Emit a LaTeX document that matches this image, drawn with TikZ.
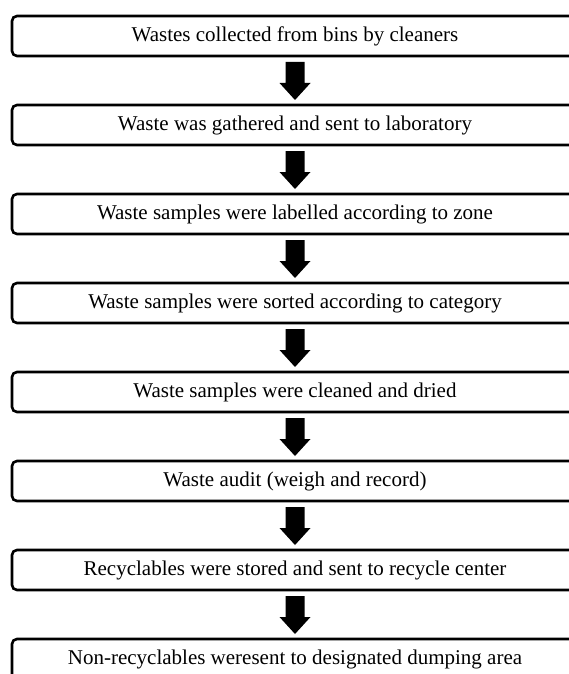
\documentclass[tikz,border=0pt]{standalone}
\usepackage{fontspec}
\setmainfont{Liberation Serif}
\usetikzlibrary{calc}
\tikzset{
  stepbox/.style={draw=black, line width=2.6pt, rounded corners=5pt, fill=white,
    minimum width=566pt, minimum height=40pt, inner sep=0pt, outer sep=0pt,
    font=\fontsize{21}{25}\selectfont, anchor=center},
  blockarrow/.style={fill=black, draw=none}
}
\newcommand{\blockarr}[2]{%
  \fill[blockarrow] ($(#1.south)+(-9.5,6)$) -- ($(#1.south)+(9.5,6)$)
    -- ($(#2.north)+(9.5,-22)$) -- ($(#2.north)+(15.5,-22)$)
    -- ($(#2.north)+(0,-5)$) -- ($(#2.north)+(-15.5,-22)$)
    -- ($(#2.north)+(-9.5,-22)$) -- cycle;}
\begin{document}
\begin{tikzpicture}[x=1pt, y=-1pt]
\useasboundingbox (0,0) rectangle (569,674);
\clip (0,0) rectangle (569,674);
\fill[white] (0,0) rectangle (569,674);
\node[stepbox] (b1) at (295,36)  {Wastes collected from bins by cleaners};
\node[stepbox] (b2) at (295,125) {Waste was gathered and sent to laboratory};
\node[stepbox] (b3) at (295,214) {Waste samples were labelled according to zone};
\node[stepbox] (b4) at (295,303) {Waste samples were sorted according to category};
\node[stepbox] (b5) at (295,392) {Waste samples were cleaned and dried};
\node[stepbox] (b6) at (295,481) {Waste audit (weigh and record)};
\node[stepbox] (b7) at (295,570) {Recyclables were stored and sent to recycle center};
\node[stepbox] (b8) at (295,659) {Non-recyclables weresent to designated dumping area};
\blockarr{b1}{b2}
\blockarr{b2}{b3}
\blockarr{b3}{b4}
\blockarr{b4}{b5}
\blockarr{b5}{b6}
\blockarr{b6}{b7}
\blockarr{b7}{b8}
\end{tikzpicture}
\end{document}
